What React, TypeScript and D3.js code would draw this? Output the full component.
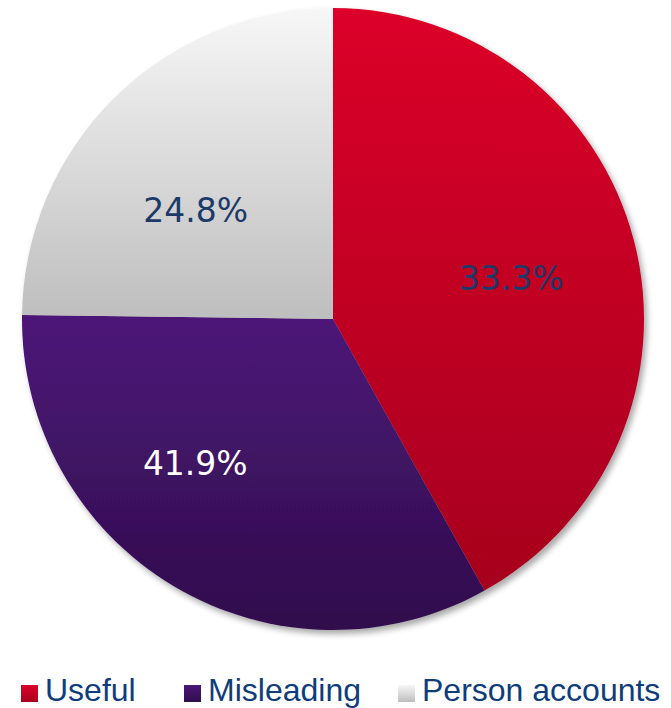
import React from "react";
import * as d3 from "d3";

// ---- data ----
const categories = ["Useful", "Misleading", "Person accounts"];
// slice sizes as drawn (angles)
const sliceShares = [41.9, 33.3, 24.8];
// label texts as printed on the slices
const labelTexts = ["33.3%", "41.9%", "24.8%"];

// ---- style config ----
const gradTop = ["#dc0029", "#4c1678", "#f7f7f7"];
const gradBottom = ["#a6001e", "#300e4c", "#bebebe"];
const labelColors = ["#1b3a6a", "#ffffff", "#1b3a6a"];
const labelAngleShiftDeg = [1.5, 13, -7];
const labelRadiusFrac = [0.588, 0.64, 0.563];
const legendX = [21, 184, 398];

const W = 671;
const H = 708;
const cx = 333;
const cy = 319;
const R = 311;

export default function App() {
  const pie = d3
    .pie<number>()
    .sort(null)
    .value((d) => d)(sliceShares);
  const arc = d3.arc<d3.PieArcDatum<number>>().innerRadius(0).outerRadius(R);

  return (
    <div style={{ position: "absolute", left: 0, top: 0 }}>
      <svg width={W} height={H} style={{ display: "block" }}>
        <defs>
          {categories.map((c, i) => {
            const a = pie[i];
            const b = arc.bounds ? null : null;
            void b;
            return (
              <linearGradient key={c} id={`g${i}`} x1="0" y1="0" x2="0" y2="1">
                <stop offset="0%" stopColor={gradTop[i]} />
                <stop offset="100%" stopColor={gradBottom[i]} />
              </linearGradient>
            );
          })}
          <filter id="shadow" x="-10%" y="-10%" width="120%" height="120%">
            <feGaussianBlur in="SourceAlpha" stdDeviation="3" />
            <feOffset dx="3" dy="4" result="ob" />
            <feComponentTransfer>
              <feFuncA type="linear" slope="0.35" />
            </feComponentTransfer>
            <feMerge>
              <feMergeNode />
              <feMergeNode in="SourceGraphic" />
            </feMerge>
          </filter>
        </defs>
        <g transform={`translate(${cx},${cy})`}>
          <g filter="url(#shadow)">
            {pie.map((p, i) => (
              <path key={i} d={arc(p) || ""} fill={`url(#g${i})`} />
            ))}
          </g>
          {pie.map((p, i) => {
            const mid = (p.startAngle + p.endAngle) / 2 + (labelAngleShiftDeg[i] * Math.PI) / 180;
            const r = R * labelRadiusFrac[i];
            const x = r * Math.sin(mid);
            const y = -r * Math.cos(mid);
            return (
              <text
                key={i}
                x={x}
                y={y}
                dy="0.36em"
                textAnchor="middle"
                fontFamily="'DejaVu Sans', Verdana, sans-serif"
                fontSize={33}
                fill={labelColors[i]}
              >
                {labelTexts[i]}
              </text>
            );
          })}
        </g>
        <g>
          {categories.map((c, i) => (
            <g key={c} transform={`translate(${legendX[i]},0)`}>
              <rect x={0} y={685} width={17} height={17} fill={`url(#g${i})`} />
              <text
                x={24}
                y={701}
                fontFamily="'Liberation Sans', Arial, sans-serif"
                fontSize={32}
                fill="#0f3d7c"
              >
                {c}
              </text>
            </g>
          ))}
        </g>
      </svg>
    </div>
  );
}
